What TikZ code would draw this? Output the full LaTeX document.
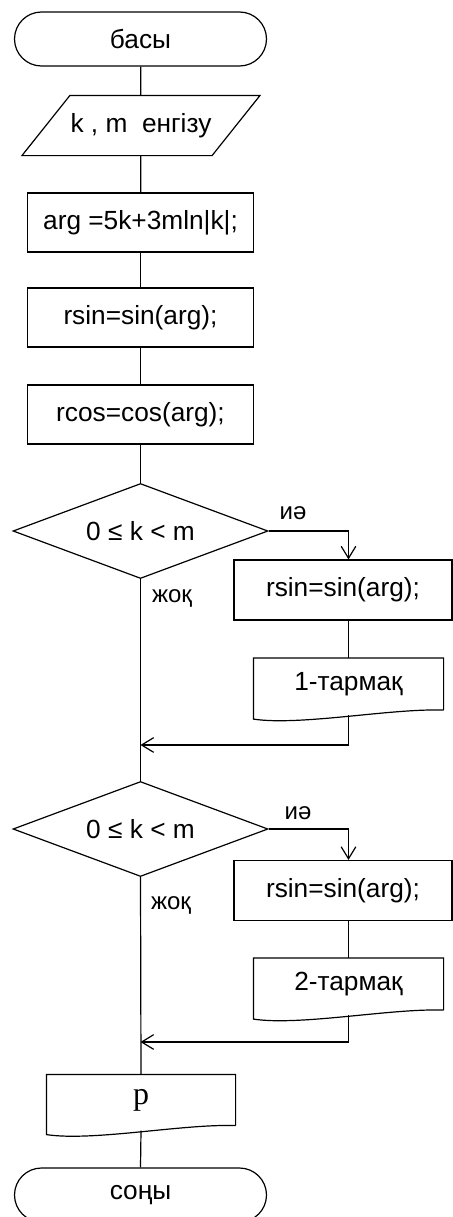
\documentclass[tikz,border=0pt]{standalone}
\usepackage{fontspec}
\setmainfont{Liberation Sans}
\newfontfamily\serifp{Liberation Serif}
\usetikzlibrary{shapes.geometric,shapes.misc,arrows.meta,calc}
\newcommand\docshape[1]{\draw (#1.south east) -- (#1.north east) -- (#1.north west) -- ($(#1.south west)+(0,9)$) .. controls +(47,7) and +(-52,-2) .. (#1.south east);}
\begin{document}
\begin{tikzpicture}[x=0.75pt,y=-0.75pt,line width=0.9pt,
  every node/.style={font=\fontsize{19.7}{23}\selectfont,inner sep=0pt},
  term/.style={draw,rounded rectangle,minimum width=189pt,minimum height=40.5pt},
  proc/.style={draw,rectangle,minimum width=169.5pt,minimum height=44.25pt},
  procr/.style={draw,rectangle,minimum width=163.5pt,minimum height=45pt},
  dec/.style={draw,diamond,aspect=2.68,minimum width=191.25pt,minimum height=71.25pt},
  doc/.style={rectangle,minimum width=141.75pt,minimum height=38.25pt},
  docp/.style={rectangle,minimum width=141pt,minimum height=37.5pt},
  lab/.style={font=\fontsize{18}{21}\selectfont},
  arr/.style={-{Straight Barb[length=9pt,width=11pt]}}]
\useasboundingbox (0,0) rectangle (453,1217);
\clip (0,0) rectangle (453,1217);
% nodes
\node[term] (start) at (140.5,39) {басы};
\node[rectangle,minimum width=105pt,minimum height=44.25pt] (in) at (141,125.5) {k , m\ \ енгізу};
\draw (in.north west) -- ($(in.north east)+(48,0)$) -- (in.south east) -- ($(in.south west)+(-48,0)$) -- cycle;
\node[proc] (arg) at (140.5,222.5) {arg =5k+3mln|k|;};
\node[proc] (rsin) at (140.5,317.5) {rsin=sin(arg);};
\node[proc] (rcos) at (140.5,414.5) {rcos=cos(arg);};
\node[dec] (d1) at (140.5,531) {0 ≤ k < m};
\node[procr] (b1) at (343,590) {rsin=sin(arg);};
\node[doc] (t1) at (348.5,684) {1-тармақ};
\docshape{t1}
\coordinate (j1) at (140.5,745);
\node[dec] (d2) at (140.5,829) {0 ≤ k < m};
\node[procr] (b2) at (343,890.5) {rsin=sin(arg);};
\node[doc] (t2) at (348.5,984) {2-тармақ};
\docshape{t2}
\coordinate (j2) at (140.5,1042);
\node[docp] (p) at (141,1100) {\serifp\fontsize{24}{28}\selectfont p};
\docshape{p}
\node[term] (end) at (140.5,1195) {соңы};
% labels
\node[lab] (yes1) at (293,513) {иә};
\node[lab] (no1) at (172,598) {жоқ};
\node[lab] (yes2) at (298,813) {иә};
\node[lab] (no2) at (171,905) {жоқ};
% connectors
\draw (start) -- (in);
\draw (in) -- (arg);
\draw (arg) -- (rsin);
\draw (rsin) -- (rcos);
\draw (rcos) -- (d1);
\draw (d1.south) -- (d2.north);
\draw[arr] (d1.east) -| (t1.north |- b1.north);
\draw (t1.north |- b1.south) -- (t1.north);
\draw[arr] ($(t1.south)+(0,5)$) |- (j1);
\draw (d2.south) -- (p.north);
\draw[arr] (d2.east) -| (t2.north |- b2.north);
\draw (t2.north |- b2.south) -- (t2.north);
\draw[arr] ($(t2.south)+(0,5)$) |- (j2);
\draw ($(p.south)+(0,5)$) -- (end.north);
\end{tikzpicture}
\end{document}
